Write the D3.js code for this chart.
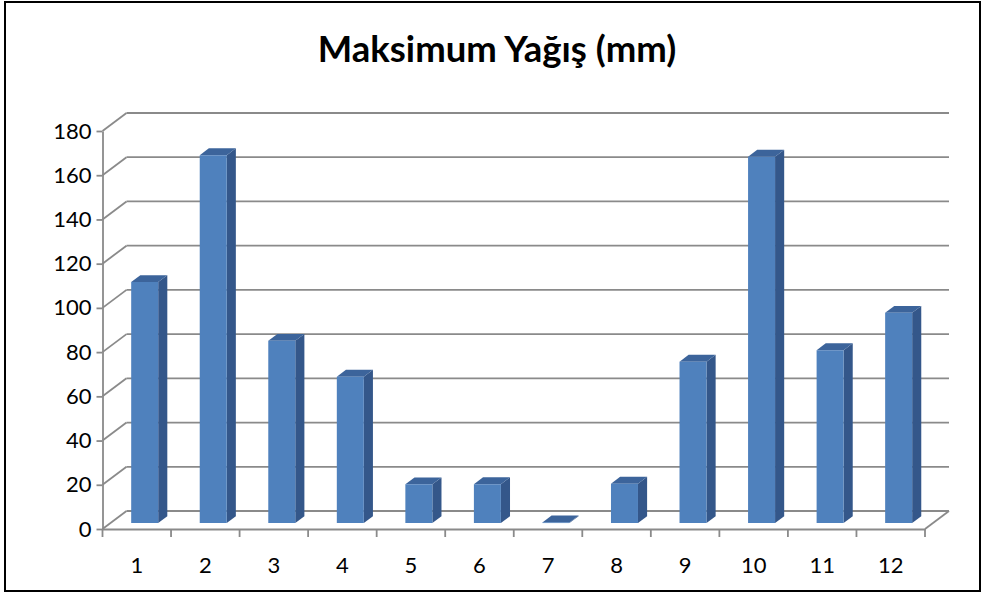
<!DOCTYPE html>
<html>
<head>
<meta charset="utf-8">
<script src="https://cdn.jsdelivr.net/npm/d3@7"></script>
<style>
  body { margin: 0; background: #fff; }
  svg { display: block; }
</style>
</head>
<body>
<div id="chart"></div>
<script>
// chart data
const title = "Maksimum Yağış (mm)";
const categories = ["1", "2", "3", "4", "5", "6", "7", "8", "9", "10", "11", "12"];
const values = [109, 166.4, 82.4, 66.2, 17.5, 17.6, 0.3, 17.8, 73, 165.7, 78.2, 95.1];
const yTicks = [0, 20, 40, 60, 80, 100, 120, 140, 160, 180];

const width = 983, height = 594;
const font = "Lato, 'Open Sans', sans-serif";
const gridColor = "#8a8a8a";
// depth vector of the 3d box (front plane -> back wall)
const depth = {dx: 24, dy: -18};
// bars sit between these depth fractions
const barDepth = [0.33, 0.71];
const barW = 27;

const proj = (x, y, t) => [x + depth.dx * t, y + depth.dy * t];

const svg = d3.select("#chart").append("svg")
    .attr("width", width).attr("height", height);

// outer frame
svg.append("rect")
    .attr("x", 5).attr("y", 2)
    .attr("width", 975).attr("height", 589)
    .attr("fill", "#fff")
    .attr("stroke", "#000").attr("stroke-width", 2);

svg.append("text")
    .attr("x", 497).attr("y", 62)
    .attr("text-anchor", "middle")
    .style("font-family", font)
    .style("font-weight", "bold")
    .style("font-size", "36.5px")
    .style("fill", "#000")
    .text(title);

const x = d3.scaleBand().domain(categories).range([102.5, 925]);
const y = d3.scaleLinear().domain([0, 180]).range([529, 131]);
const [x0, x1] = x.range();

// back wall gridlines
const grid = svg.append("g").attr("stroke", gridColor).attr("stroke-width", 1.8).attr("fill", "none");
grid.selectAll("line.back")
    .data(yTicks)
    .join("line").attr("class", "back")
    .attr("x1", d => proj(x0, y(d), 1)[0])
    .attr("y1", d => proj(x0, y(d), 1)[1])
    .attr("x2", d => proj(x1, y(d), 1)[0])
    .attr("y2", d => proj(x1, y(d), 1)[1]);
// left wall diagonals
grid.selectAll("line.side")
    .data(yTicks)
    .join("line").attr("class", "side")
    .attr("x1", x0).attr("y1", d => y(d))
    .attr("x2", d => proj(x0, y(d), 1)[0])
    .attr("y2", d => proj(x0, y(d), 1)[1]);
// floor right edge
grid.append("line")
    .attr("x1", x1).attr("y1", y(0))
    .attr("x2", proj(x1, y(0), 1)[0])
    .attr("y2", proj(x1, y(0), 1)[1]);

// bars
const bars = svg.append("g").selectAll("g.bar")
    .data(categories.map((c, i) => ({c, v: values[i]})))
    .join("g").attr("class", "bar");

const barX = d => x(d.c) + (x.bandwidth() - barW) / 2;
const pts = arr => arr.map(p => p.join(",")).join(" ");

// side face
bars.append("polygon")
    .attr("fill", "#34578a")
    .attr("points", d => {
        const xr = barX(d) + barW, yt = y(d.v), yb = y(0);
        return pts([proj(xr, yb, barDepth[0]), proj(xr, yt, barDepth[0]),
                    proj(xr, yt, barDepth[1]), proj(xr, yb, barDepth[1])]);
    });
// top face
bars.append("polygon")
    .attr("fill", "#3c649b")
    .attr("points", d => {
        const xl = barX(d), xr = xl + barW, yt = y(d.v);
        return pts([proj(xl, yt, barDepth[0]), proj(xr, yt, barDepth[0]),
                    proj(xr, yt, barDepth[1]), proj(xl, yt, barDepth[1])]);
    });
// front face
bars.append("polygon")
    .attr("fill", "#4f81bd")
    .attr("points", d => {
        const xl = barX(d), xr = xl + barW, yt = y(d.v), yb = y(0);
        return pts([proj(xl, yb, barDepth[0]), proj(xl, yt, barDepth[0]),
                    proj(xr, yt, barDepth[0]), proj(xr, yb, barDepth[0])]);
    });

// y axis
const yAxis = svg.append("g")
    .attr("transform", `translate(${x0},0)`)
    .call(d3.axisLeft(y).tickValues(yTicks).tickSize(6).tickSizeOuter(0).tickPadding(5))
    .attr("font-family", font).attr("font-size", 22);
yAxis.select(".domain").attr("stroke", gridColor).attr("stroke-width", 1.8);
yAxis.selectAll(".tick line").attr("stroke", gridColor).attr("stroke-width", 1.8);
yAxis.selectAll(".tick text").attr("fill", "#000");

// x axis
const xAxis = svg.append("g")
    .attr("transform", `translate(0,${y(0)})`)
    .call(d3.axisBottom(x).tickSize(0).tickPadding(28))
    .attr("font-family", font).attr("font-size", 22);
xAxis.select(".domain").attr("stroke", gridColor).attr("stroke-width", 1.8);
xAxis.selectAll(".tick text").attr("fill", "#000");
// ticks on category boundaries
xAxis.selectAll("line.bound")
    .data([...categories.map(c => x(c)), x1])
    .join("line").attr("class", "bound")
    .attr("x1", d => d).attr("x2", d => d)
    .attr("y1", 0).attr("y2", 8)
    .attr("stroke", gridColor).attr("stroke-width", 1.8);
</script>
</body>
</html>
